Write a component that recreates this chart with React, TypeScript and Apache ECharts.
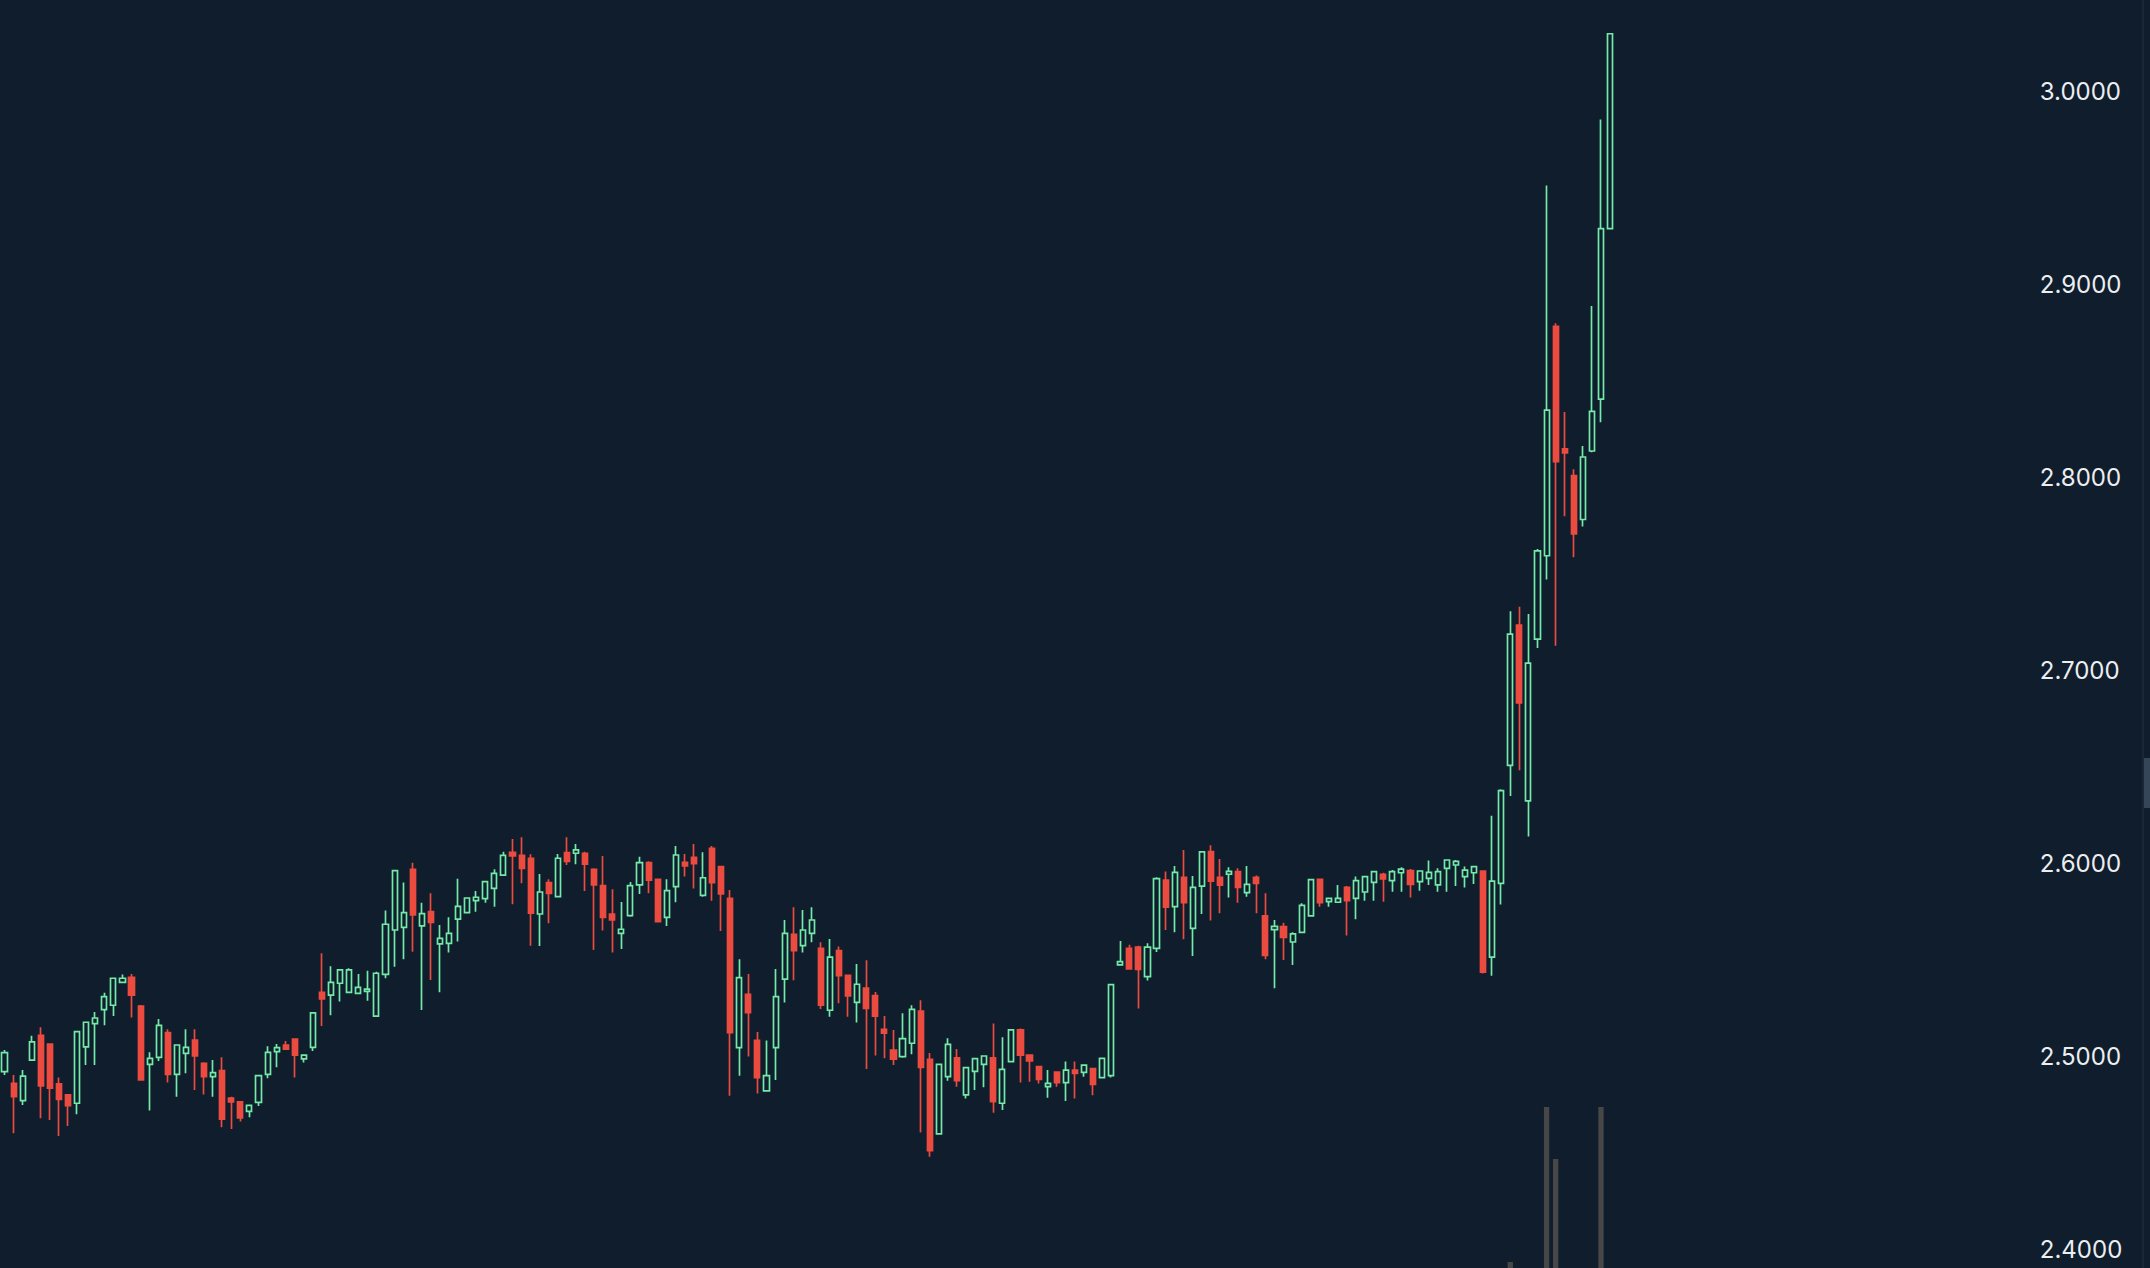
import React, { useEffect, useRef } from "react";
import * as echarts from "echarts";

// OHLC per candle (oldest on the left)
const opens = [
  2.4921, 2.4860, 2.4771, 2.4981, 2.5109, 2.5063, 2.4857, 2.4800, 2.4757, 2.5049,
  2.5170, 2.5242, 2.5265, 2.5384, 2.5410, 2.5261, 2.4959, 2.4995, 2.5123, 2.4907,
  2.5016, 2.5085, 2.4964, 2.4895, 2.4926, 2.4784, 2.4764, 2.4715, 2.4762, 2.4907,
  2.5025, 2.5059, 2.5089, 2.4987, 2.5047, 2.5332, 2.5317, 2.5379, 2.5332, 2.5327,
  2.5337, 2.5209, 2.5425, 2.5655, 2.5669, 2.5970, 2.5676, 2.5750, 2.5583, 2.5586,
  2.5712, 2.5745, 2.5807, 2.5818, 2.5871, 2.5940, 2.6058, 2.6042, 2.6027, 2.5738,
  2.5901, 2.5828, 2.6056, 2.6053, 2.6053, 2.5970, 2.5885, 2.5737, 2.5638, 2.5730,
  2.5889, 2.6004, 2.5918, 2.5721, 2.5880, 2.6006, 2.6032, 2.5835, 2.6079, 2.5984,
  2.5819, 2.5045, 2.5322, 2.5083, 2.4821, 2.5045, 2.5400, 2.5633, 2.5574, 2.5638,
  2.5560, 2.5239, 2.5548, 2.5420, 2.5280, 2.5354, 2.5315, 2.5140, 2.5033, 2.4999,
  2.5068, 2.5235, 2.4985, 2.4598, 2.4895, 2.4993, 2.4800, 2.4922, 2.4959, 2.4992,
  2.4757, 2.4973, 2.5137, 2.5006, 2.4947, 2.4843, 2.4919, 2.4864, 2.4929, 2.4917,
  2.4936, 2.4890, 2.4900, 2.5474, 2.5560, 2.5567, 2.5413, 2.5560, 2.5914, 2.5776,
  2.5928, 2.5664, 2.5883, 2.6061, 2.5928, 2.5944, 2.5958, 2.5849, 2.5928, 2.5728,
  2.5657, 2.5673, 2.5593, 2.5643, 2.5728, 2.5918, 2.5802, 2.5799, 2.5876, 2.5819,
  2.5852, 2.5902, 2.5944, 2.5911, 2.5952, 2.5963, 2.5906, 2.5923, 2.5889, 2.5975,
  2.5992, 2.5932, 2.5952, 2.5961, 2.5515, 2.5897, 2.6509, 2.7236, 2.6324, 2.7163,
  2.7595, 2.8784, 2.8149, 2.8011, 2.7783, 2.8138, 2.8407, 2.9291,
];
const closes = [
  2.5019, 2.4791, 2.4898, 2.5075, 2.4847, 2.4835, 2.4777, 2.4745, 2.5128, 2.5177,
  2.5199, 2.5310, 2.5405, 2.5405, 2.5317, 2.4878, 2.4990, 2.5161, 2.4907, 2.5059,
  2.5047, 2.5002, 2.4895, 2.4916, 2.4675, 2.4764, 2.4681, 2.4746, 2.4900, 2.5021,
  2.5045, 2.5038, 2.5007, 2.5006, 2.5225, 2.5298, 2.5384, 2.5448, 2.5448, 2.5358,
  2.5349, 2.5431, 2.5685, 2.5963, 2.5745, 2.5733, 2.5740, 2.5695, 2.5612, 2.5638,
  2.5778, 2.5821, 2.5825, 2.5906, 2.5949, 2.6042, 2.6039, 2.5975, 2.5742, 2.5852,
  2.5845, 2.6027, 2.6011, 2.6070, 2.5997, 2.5889, 2.5721, 2.5707, 2.5659, 2.5885,
  2.6004, 2.5914, 2.5698, 2.5859, 2.6044, 2.5987, 2.5999, 2.5926, 2.5901, 2.5842,
  2.5123, 2.5408, 2.5227, 2.4890, 2.4900, 2.5310, 2.5638, 2.5548, 2.5655, 2.5707,
  2.5266, 2.5515, 2.5418, 2.5313, 2.5374, 2.5249, 2.5209, 2.5120, 2.4986, 2.5092,
  2.5244, 2.4943, 2.4511, 2.4959, 2.5062, 2.4874, 2.4942, 2.4988, 2.5002, 2.4765,
  2.4933, 2.5137, 2.5007, 2.4976, 2.4881, 2.4860, 2.4864, 2.4929, 2.4912, 2.4955,
  2.4855, 2.4990, 2.5372, 2.5491, 2.5453, 2.5451, 2.5566, 2.5921, 2.5773, 2.5954,
  2.5797, 2.5876, 2.6060, 2.5908, 2.5887, 2.5959, 2.5876, 2.5892, 2.5897, 2.5524,
  2.5674, 2.5617, 2.5635, 2.5783, 2.5916, 2.5797, 2.5819, 2.5819, 2.5807, 2.5911,
  2.5932, 2.5958, 2.5920, 2.5958, 2.5971, 2.5892, 2.5961, 2.5954, 2.5958, 2.6018,
  2.6011, 2.5966, 2.5984, 2.5436, 2.5908, 2.6378, 2.7189, 2.6832, 2.7039, 2.7620,
  2.8350, 2.8083, 2.8128, 2.7709, 2.8107, 2.8344, 2.9291, 3.0301,
];
const lows = [
  2.4904, 2.4601, 2.4748, 2.4976, 2.4679, 2.4670, 2.4587, 2.4639, 2.4700, 2.4955,
  2.4955, 2.5161, 2.5209, 2.5379, 2.5201, 2.4878, 2.4719, 2.4976, 2.4864, 2.4791,
  2.4912, 2.4826, 2.4803, 2.4791, 2.4632, 2.4624, 2.4662, 2.4684, 2.4743, 2.4886,
  2.4943, 2.5038, 2.4890, 2.4968, 2.5028, 2.5158, 2.5213, 2.5284, 2.5330, 2.5322,
  2.5289, 2.5206, 2.5405, 2.5465, 2.5503, 2.5543, 2.5241, 2.5396, 2.5332, 2.5539,
  2.5595, 2.5742, 2.5750, 2.5797, 2.5776, 2.5940, 2.5788, 2.5897, 2.5574, 2.5572,
  2.5690, 2.5828, 2.5992, 2.5996, 2.5857, 2.5552, 2.5652, 2.5539, 2.5557, 2.5724,
  2.5842, 2.5845, 2.5698, 2.5676, 2.5799, 2.5932, 2.5870, 2.5828, 2.5807, 2.5650,
  2.4796, 2.4900, 2.4999, 2.4808, 2.4821, 2.4878, 2.5279, 2.5394, 2.5539, 2.5591,
  2.5246, 2.5206, 2.5275, 2.5206, 2.5175, 2.4935, 2.5004, 2.4990, 2.4955, 2.4993,
  2.5011, 2.4606, 2.4480, 2.4598, 2.4874, 2.4843, 2.4781, 2.4826, 2.4840, 2.4708,
  2.4722, 2.4973, 2.4864, 2.4869, 2.4860, 2.4786, 2.4843, 2.4769, 2.4781, 2.4895,
  2.4798, 2.4888, 2.4891, 2.5474, 2.5453, 2.5248, 2.5393, 2.5541, 2.5655, 2.5643,
  2.5607, 2.5520, 2.5738, 2.5704, 2.5742, 2.5823, 2.5797, 2.5828, 2.5742, 2.5503,
  2.5353, 2.5500, 2.5474, 2.5643, 2.5728, 2.5776, 2.5776, 2.5799, 2.5626, 2.5711,
  2.5807, 2.5807, 2.5802, 2.5854, 2.5854, 2.5823, 2.5859, 2.5889, 2.5854, 2.5854,
  2.5883, 2.5876, 2.5894, 2.5430, 2.5418, 2.5787, 2.6350, 2.6483, 2.6140, 2.7117,
  2.7472, 2.7128, 2.7800, 2.7588, 2.7747, 2.8132, 2.8287, 2.9291,
];
const highs = [
  2.5033, 2.4904, 2.4930, 2.5107, 2.5151, 2.5068, 2.4890, 2.4803, 2.5132, 2.5177,
  2.5230, 2.5330, 2.5405, 2.5425, 2.5427, 2.5266, 2.5021, 2.5194, 2.5140, 2.5059,
  2.5140, 2.5140, 2.4969, 2.4981, 2.4995, 2.4791, 2.4764, 2.4748, 2.4900, 2.5052,
  2.5064, 2.5080, 2.5089, 2.5006, 2.5227, 2.5534, 2.5467, 2.5453, 2.5457, 2.5427,
  2.5444, 2.5439, 2.5756, 2.5966, 2.5901, 2.6004, 2.5797, 2.5845, 2.5681, 2.5721,
  2.5921, 2.5823, 2.5857, 2.5909, 2.5970, 2.6061, 2.6127, 2.6136, 2.6048, 2.5946,
  2.5918, 2.6049, 2.6136, 2.6101, 2.6061, 2.5975, 2.6039, 2.5866, 2.5800, 2.5904,
  2.6035, 2.6011, 2.5918, 2.5918, 2.6091, 2.6049, 2.6101, 2.6058, 2.6091, 2.5984,
  2.5863, 2.5503, 2.5427, 2.5126, 2.5082, 2.5453, 2.5707, 2.5773, 2.5759, 2.5773,
  2.5591, 2.5609, 2.5569, 2.5420, 2.5479, 2.5498, 2.5334, 2.5209, 2.5137, 2.5223,
  2.5265, 2.5291, 2.5018, 2.4959, 2.5094, 2.5038, 2.4943, 2.4988, 2.5005, 2.5171,
  2.5099, 2.5137, 2.5144, 2.5006, 2.4947, 2.4929, 2.4919, 2.4974, 2.4974, 2.4959,
  2.4936, 2.4990, 2.5372, 2.5598, 2.5579, 2.5574, 2.5586, 2.5928, 2.5959, 2.5987,
  2.6070, 2.5935, 2.6061, 2.6094, 2.6023, 2.5980, 2.5975, 2.5987, 2.5937, 2.5845,
  2.5707, 2.5693, 2.5643, 2.5794, 2.5921, 2.5918, 2.5819, 2.5889, 2.5883, 2.5932,
  2.5935, 2.5961, 2.5952, 2.5966, 2.5980, 2.5971, 2.5963, 2.6015, 2.5975, 2.6018,
  2.6018, 2.5984, 2.5987, 2.5965, 2.6248, 2.6385, 2.7308, 2.7331, 2.7293, 2.7630,
  2.9514, 2.8800, 2.8340, 2.8043, 2.8164, 2.8890, 2.9856, 3.0301,
];

// Visible volume bars: [candle index, volume]
const volumeBars: [number, number][] = [
  [166, 60],
  [170, 1610],
  [171, 1090],
  [176, 1610],
];

// Price-scale tick labels
const priceTicks = [2.4, 2.5, 2.6, 2.7, 2.8, 2.9, 3.0];

// Total time slots on the x axis (candles + empty space to the right)
const SLOT_COUNT = 223;

const BG = "#0f1d2d";
const UP = "#74eaa8";
const DOWN = "#ec4b3f";
const VOL = "#474747";

export default function App() {
  const ref = useRef<HTMLDivElement>(null);

  useEffect(() => {
    document.body.style.margin = "0";
    document.body.style.background = BG;
    if (!ref.current) return;
    const chart = echarts.init(ref.current, undefined, { renderer: "svg" });

    const slots = Array.from({ length: SLOT_COUNT }, (_, i) => String(i));
    const candles = opens.map((o, i) => [o, closes[i], lows[i], highs[i]]);

    chart.setOption({
      animation: false,
      backgroundColor: BG,
      grid: { left: -5.35, right: 127.2, top: 0, bottom: 0, containLabel: false },
      xAxis: {
        type: "category",
        data: slots,
        boundaryGap: true,
        show: false,
      },
      yAxis: [
        {
          type: "value",
          position: "right",
          min: 2.3903,
          max: 3.0476,
          scale: true,
          axisLine: { show: false },
          axisTick: { show: false },
          splitLine: { show: false },
          axisLabel: {
            customValues: priceTicks,
            margin: 17,
            color: "#eceef0",
            fontSize: 24,
            fontFamily: "Inter, 'Liberation Sans', Arial, sans-serif",
            formatter: (v: number) => Number(v).toFixed(4),
          },
        },
        {
          type: "value",
          min: 0,
          max: 12680,
          show: false,
        },
      ],
      series: [
        {
          type: "bar",
          yAxisIndex: 1,
          data: volumeBars,
          barWidth: 5.3,
          itemStyle: { color: VOL },
          silent: true,
          z: 1,
        },
        {
          type: "candlestick",
          yAxisIndex: 0,
          data: candles,
          barWidth: 5.6,
          itemStyle: {
            color: BG,
            color0: DOWN,
            borderColor: UP,
            borderColor0: DOWN,
            borderWidth: 1.7,
          },
          z: 2,
        },
      ],
      graphic: [
        {
          type: "rect",
          shape: { x: 2142, y: 0, width: 2, height: 1268 },
          style: { fill: "#1b2735" },
          silent: true,
        },
        {
          type: "rect",
          shape: { x: 2144, y: 758, width: 6, height: 50 },
          style: { fill: "#364659" },
          silent: true,
        },
      ],
    });

    return () => chart.dispose();
  }, []);

  return (
    <div
      ref={ref}
      style={{
        position: "fixed",
        left: 0,
        top: 0,
        width: 2150,
        height: 1268,
        background: BG,
      }}
    />
  );
}
